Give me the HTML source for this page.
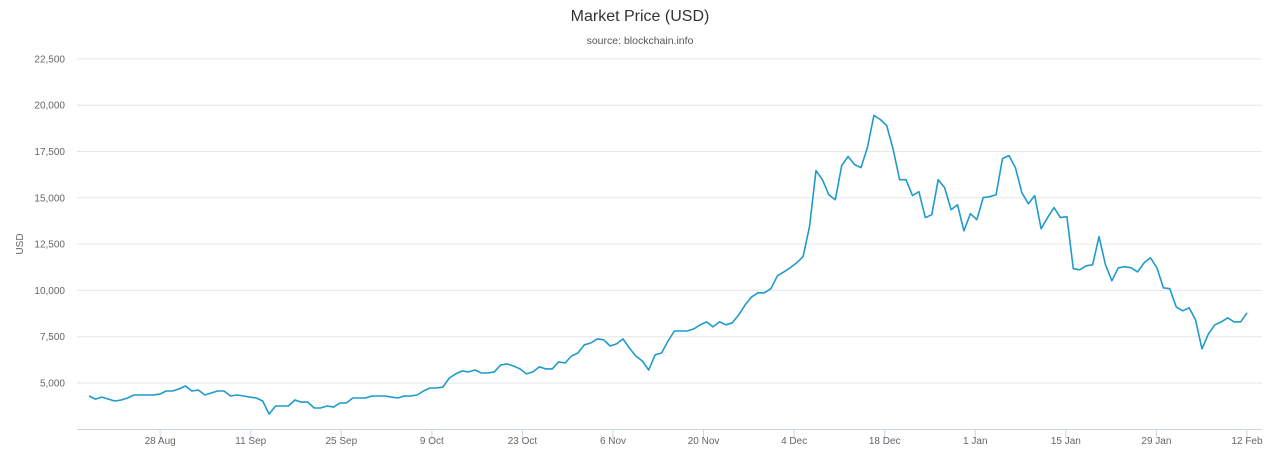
<!DOCTYPE html>
<html><head><meta charset="utf-8"><style>
html,body{margin:0;padding:0;background:#fff;}
svg{display:block;font-family:"Liberation Sans",sans-serif;}
</style></head><body>
<svg id="chart" width="1280" height="463">
<text x="640" y="21" text-anchor="middle" font-size="16" fill="#333">Market Price (USD)</text>
<text x="640" y="44" text-anchor="middle" font-size="10.5" fill="#555">source: blockchain.info</text>
<text transform="translate(23,244) rotate(-90)" text-anchor="middle" font-size="10" fill="#666">USD</text>
<g id="grid"></g><g id="xaxis"></g><g id="series"></g>
</svg>
<script>
const yTicks=[5000,7500,10000,12500,15000,17500,20000,22500];
const xTickLabels=["28 Aug","11 Sep","25 Sep","9 Oct","23 Oct","6 Nov","20 Nov","4 Dec","18 Dec","1 Jan","15 Jan","29 Jan","12 Feb"];
const xTickDays=[11,25,39,53,67,81,95,109,123,137,151,165,179];
const prices=[4300,4130,4240,4130,4030,4080,4190,4350,4350,4350,4350,4400,4570,4570,4680,4840,4570,4620,4350,4460,4570,4570,4300,4350,4300,4240,4190,4030,3320,3760,3760,3760,4080,3970,3970,3650,3650,3760,3700,3920,3920,4190,4190,4190,4300,4300,4300,4240,4190,4300,4300,4350,4570,4730,4730,4780,5270,5490,5650,5600,5700,5540,5540,5600,5970,6030,5920,5760,5490,5600,5870,5760,5760,6140,6080,6460,6620,7060,7160,7380,7330,7000,7110,7380,6890,6460,6190,5700,6520,6620,7270,7810,7810,7810,7920,8140,8300,8030,8300,8140,8250,8680,9220,9650,9870,9870,10090,10790,11000,11220,11490,11820,13440,16470,15980,15170,14900,16740,17230,16790,16630,17710,19450,19230,18900,17610,15980,15980,15120,15330,13930,14090,15980,15550,14360,14630,13220,14140,13820,15010,15060,15170,17120,17280,16630,15280,14680,15120,13330,13930,14470,13930,13980,11170,11110,11330,11380,12900,11380,10520,11220,11280,11220,11000,11490,11760,11220,10140,10090,9110,8900,9060,8410,6840,7650,8140,8300,8520,8300,8300,8790];
const totalDays=179;
const NS="http://www.w3.org/2000/svg";
const L=77,R=1262,T=60,B=429;
const yScale=v=>383-(v-5000)*(46.3/2500);
const xDay=d=>89+d*((1247-89)/totalDays);
const xIdx=i=>xDay(i*totalDays/(prices.length-1));
function mk(tag,attrs,parent){const e=document.createElementNS(NS,tag);for(const k in attrs)e.setAttribute(k,attrs[k]);parent.appendChild(e);return e;}
const grid=document.getElementById('grid');
yTicks.forEach(v=>{
  const y=yScale(v);
  const ln=mk('line',{x1:L,x2:R,y1:y,y2:y,stroke:'#e6e6e6','stroke-width':1},grid);
  
  
  const t=mk('text',{x:65,y:y+3.5,'text-anchor':'end','font-size':10,fill:'#666'},grid);
  t.textContent=v.toLocaleString('en-US');
  
  
});
const xa=document.getElementById('xaxis');
const ax=mk('line',{x1:L,x2:R,y1:B+0.5,y2:B+0.5,stroke:'#ccd6eb','stroke-width':1},xa);


xTickLabels.forEach((lab,i)=>{
  const x=xDay(xTickDays[i]);
  const tk=mk('line',{x1:x,x2:x,y1:B,y2:B+10,stroke:'#ccd6eb','stroke-width':1},xa);
  
  
  const t=mk('text',{x:x,y:B+15,'text-anchor':'middle','font-size':10,fill:'#666'},xa);
  t.textContent=lab;
  
  
});
const d=prices.map((v,i)=>(i?'L':'M')+xIdx(i).toFixed(1)+','+yScale(v).toFixed(1)).join(' ');
const p=mk('path',{d:d,fill:'none',stroke:'#1f9bcb','stroke-width':1.6,'stroke-linejoin':'round'},document.getElementById('series'));


</script>
</body></html>
